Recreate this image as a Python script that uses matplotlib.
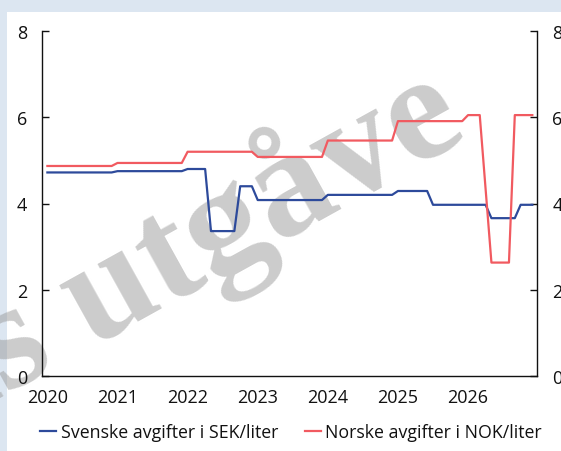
import matplotlib
matplotlib.use("Agg")
import matplotlib.pyplot as plt
from matplotlib.patches import Rectangle

# ---- data (monthly, Jan 2020 - Dec 2026) ----
years = [2020, 2021, 2022, 2023, 2024, 2025, 2026]
year_labels = ["2020", "2021", "2022", "2023", "2024", "2025", "2026"]

sek = ([4.72] * 12 + [4.75] * 12 + [4.80] * 4 + [3.36] * 5 + [4.40] * 3 +
       [4.08] * 12 + [4.20] * 12 + [4.29] * 6 + [3.97] * 10 + [3.66] * 5 +
       [3.97] * 3)
nok = ([4.87] * 12 + [4.94] * 12 + [5.20] * 12 + [5.08] * 12 + [5.46] * 12 +
       [5.91] * 12 + [6.05] * 3 + [4.34] + [2.63] * 4 + [6.05] * 4)
months = list(range(len(sek)))

sek_label = "Svenske avgifter i SEK/liter"
nok_label = "Norske avgifter i NOK/liter"
yticks = [0, 2, 4, 6, 8]

blue = "#2d4a9b"
red = "#f15a60"

plt.rcParams["font.family"] = ["Open Sans", "DejaVu Sans"]

W, H = 561, 452
fig = plt.figure(figsize=(W / 100, H / 100), dpi=100)
fig.patch.set_facecolor("#dce6f1")
fig.add_artist(Rectangle((7 / W, 0), 1 - 7 / W, 1 - 13 / H,
                         transform=fig.transFigure, facecolor="white",
                         edgecolor="none", zorder=0.1))

# watermark
fig.text(470 / W, (H - 138) / H, "Førebels utgåve", rotation=29,
         rotation_mode="anchor", ha="right", va="baseline",
         fontsize=110, family="Liberation Serif", weight="bold",
         color="#999999", alpha=0.5, zorder=0.5)

ax = fig.add_axes([42.3 / W, (H - 377) / H, (537 - 42.3) / W, (377 - 32) / H])
ax.set_zorder(1)
ax.patch.set_alpha(0)

ax.plot(months, sek, color=blue, lw=1.6, label=sek_label)
ax.plot(months, nok, color=red, lw=1.6, label=nok_label)

ax.set_xlim(-0.87, 83.8)
ax.set_ylim(0, 8)
ax.set_xticks([(y - 2020) * 12 for y in years])
ax.set_xticklabels(year_labels)
ax.set_yticks(yticks)
ax.set_yticklabels([str(v) for v in yticks])

for s in ["left", "right", "bottom"]:
    ax.spines[s].set_linewidth(1.0)
    ax.spines[s].set_color("#111111")
ax.spines["top"].set_visible(False)

ax.tick_params(axis="y", which="both", direction="in", length=5, width=1.0,
               left=True, right=True, labelleft=True, labelright=True,
               pad=11, labelsize=13, colors="#111111")
ax.tick_params(axis="x", length=0, pad=9, labelsize=13, colors="#111111")

leg = fig.legend(loc="center", bbox_to_anchor=(291 / W, (H - 433) / H), ncol=2,
                 frameon=False, fontsize=12.8, handlelength=0.9,
                 handletextpad=0.25, columnspacing=1.5,
                 labelcolor="#111111")
for l in leg.get_lines():
    l.set_linewidth(1.6)

fig.savefig("out.png", dpi=100, facecolor=fig.get_facecolor())
